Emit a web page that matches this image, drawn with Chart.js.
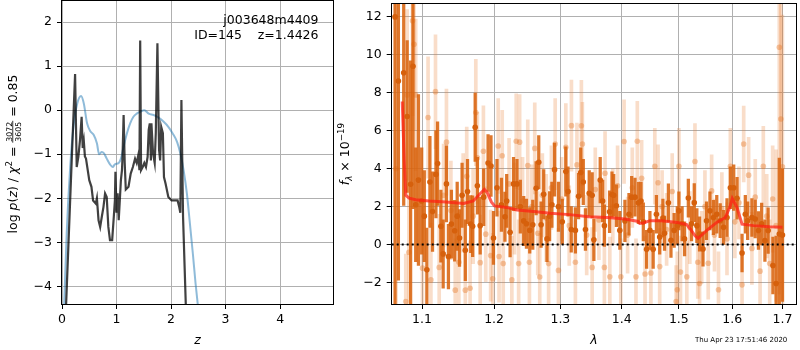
<!DOCTYPE html>
<html><head><meta charset="utf-8">
<script src="https://cdn.jsdelivr.net/npm/chart.js@4"></script>
<style>
html,body{margin:0;padding:0;background:#fff;}
#wrap{position:relative;width:800px;height:350px;overflow:hidden;}
#c1{position:absolute;left:0;top:0;width:335px;height:350px;}
#c2{position:absolute;left:335px;top:0;width:465px;height:350px;}
</style></head><body>
<div id="wrap"><canvas id="c1" width="335" height="350"></canvas><canvas id="c2" width="465" height="350"></canvas></div>
<script>
// ---------------- data: left panel (redshift PDF) ----------------
const zTicks = [0, 1, 2, 3, 4];
const pzTicks = [-4, -3, -2, -1, 0, 1, 2];
const zLine = [0.06,0.24,0.27,0.30,0.33,0.36,0.38,0.40,0.42,0.44,0.50,0.54,0.57,0.62,0.64,0.67,0.70,0.73,0.76,0.79,0.82,0.85,0.88,0.92,0.95,0.97,0.98,1.00,1.02,1.04,1.06,1.08,1.10,1.11,1.13,1.15,1.17,1.22,1.26,1.30,1.34,1.37,1.40,1.42,1.434,1.45,1.48,1.51,1.54,1.57,1.59,1.61,1.63,1.64,1.67,1.70,1.72,1.75,1.78,1.80,1.82,1.85,1.87,1.90,1.95,2.01,2.07,2.12,2.15,2.17,2.19,2.22,2.29];
const logPz = [-4.9,0.82,-1.29,-1.06,-0.68,-0.15,-0.86,-0.70,-1.05,-1.10,-1.59,-1.74,-2.05,-2.12,-2.00,-2.50,-2.65,-2.42,-2.20,-1.89,-1.97,-2.65,-2.95,-2.95,-2.42,-2.05,-1.40,-2.33,-1.89,-2.50,-2.05,-1.59,-1.36,-1.06,-0.11,-1.20,-1.80,-1.74,-1.44,-1.29,-1.10,-1.20,-1.02,-1.36,1.58,-1.36,-1.29,-1.20,-1.29,-1.06,-0.45,-0.30,-1.14,-0.30,-0.98,-1.20,-0.52,1.52,-0.90,-1.14,-0.38,-0.52,-1.52,-1.67,-1.97,-2.05,-2.05,-2.05,-2.20,-2.33,0.23,-2.42,-5.2];
const zSmooth = [0.01,0.086,0.15,0.21,0.28,0.35,0.40,0.46,0.52,0.58,0.64,0.68,0.73,0.77,0.82,0.88,0.93,0.97,1.04,1.08,1.13,1.19,1.25,1.31,1.37,1.43,1.51,1.59,1.68,1.77,1.86,1.95,2.03,2.11,2.17,2.23,2.29,2.34,2.40,2.45,2.49,2.55];
const logPzSmooth = [-5.5,-2.8,-1.29,-0.38,0.15,0.32,0.15,-0.30,-0.48,-0.56,-0.75,-1.00,-0.95,-0.98,-1.10,-1.23,-1.29,-1.23,-1.20,-1.10,-0.83,-0.53,-0.30,-0.15,-0.08,-0.04,0.00,-0.08,-0.11,-0.17,-0.26,-0.38,-0.53,-0.72,-0.98,-1.36,-1.89,-2.50,-3.26,-3.94,-4.41,-5.0];
const fieldName = 'j003648m4409';
const idLine = 'ID=145    z=1.4426';

// ---------------- data: right panel (spectrum) ----------------
const lamTicks = [1.1, 1.2, 1.3, 1.4, 1.5, 1.6, 1.7];
const fluxTicks = [-2, 0, 2, 4, 6, 8, 10, 12];
const lamDark = [1.0647,1.0690,1.0759,1.0804,1.0849,1.0880,1.0916,1.0952,1.0995,1.1030,1.1064,1.1105,1.1140,1.1186,1.1208,1.1253,1.1284,1.1329,1.1356,1.1397,1.1442,1.1477,1.1509,1.1545,1.1590,1.1621,1.1666,1.1693,1.1729,1.1760,1.1800,1.1850,1.1913,1.1955,1.1991,1.2042,1.2107,1.2158,1.2184,1.2234,1.2285,1.2336,1.2386,1.2437,1.2478,1.2528,1.2574,1.2625,1.2665,1.2701,1.2741,1.2792,1.2832,1.2868,1.2909,1.2970,1.3030,1.3086,1.3121,1.3172,1.3238,1.3289,1.3324,1.3365,1.3400,1.3461,1.3509,1.3537,1.3641,1.3681,1.3710,1.3796,1.3836,1.3865,1.3910,1.3968,1.4054,1.4123,1.4169,1.4226,1.4284,1.4330,1.4370,1.4427,1.4485,1.4542,1.4599,1.4657,1.4714,1.4743,1.4812,1.4858,1.4915,1.4972,1.5001,1.5059,1.5104,1.5173,1.5231,1.5282,1.5330,1.5380,1.5444,1.5510,1.5574,1.5639,1.5703,1.5768,1.5833,1.5898,1.5963,1.6028,1.6092,1.6190,1.6254,1.6300,1.6384,1.6449,1.6514,1.6578,1.6643,1.6708,1.6805,1.6870,1.6935,1.7000];
const fluxDark = [12.0,8.62,9.06,6.75,3.18,9.40,2.10,3.40,2.30,1.50,-1.33,3.30,1.74,3.70,4.27,0.97,-0.49,3.20,-0.63,1.08,0.73,1.50,0.35,2.60,-0.30,2.80,1.08,0.97,6.18,3.10,1.00,2.50,4.30,4.14,0.35,3.00,2.10,1.47,2.30,0.65,3.20,3.20,2.00,1.25,1.10,0.75,1.05,2.97,4.34,1.05,2.65,0.30,1.50,2.10,3.95,2.00,1.20,3.85,2.80,0.80,0.75,2.55,3.80,3.30,0.80,2.70,2.60,0.25,3.40,2.30,1.00,1.73,2.64,2.60,2.05,0.75,1.25,1.60,2.50,2.50,2.20,2.30,1.20,-0.25,0.75,-0.25,1.60,0.40,1.40,0.60,2.20,0.23,0.75,1.00,1.78,1.10,0.30,2.45,1.10,2.21,1.00,0.56,-0.23,1.26,1.78,1.43,1.60,1.26,0.91,1.43,3.00,3.00,2.44,-0.44,1.60,1.26,1.43,1.35,0.74,1.09,0.21,0.74,-1.10,-2.05,0.56,0.50];
const errDark = [16.0,10.5,7.0,4.0,6.5,7.5,3.0,4.5,2.8,2.4,2.2,2.4,2.1,2.3,2.2,1.9,1.8,2.0,1.7,1.8,1.6,1.8,1.5,1.7,1.6,1.7,1.5,1.6,1.8,1.5,1.5,1.5,1.5,1.6,1.4,1.5,1.4,1.3,1.4,1.3,1.4,1.3,1.4,1.3,1.3,1.2,1.3,1.4,1.4,1.2,1.3,1.2,1.3,1.2,1.4,1.3,1.2,1.3,1.3,1.2,1.2,1.2,1.3,1.2,1.1,1.2,1.2,1.1,1.2,1.1,1.1,1.1,1.2,1.1,1.1,1.0,1.1,1.1,1.1,1.0,1.1,1.0,1.0,1.0,1.0,1.0,1.0,0.9,1.0,0.9,1.0,0.9,0.9,1.0,1.0,0.9,0.9,1.0,0.9,1.0,0.9,0.9,0.9,1.0,1.0,0.9,1.0,0.9,0.9,1.0,1.1,1.2,1.1,1.0,1.0,1.0,1.0,1.0,1.0,1.1,1.1,1.2,1.5,2.5,4.0,3.5];
const lamLight = [1.0660,1.0786,1.0804,1.0826,1.0874,1.0894,1.0916,1.1006,1.1080,1.1118,1.1180,1.1230,1.1290,1.1329,1.1390,1.1450,1.1500,1.1560,1.1590,1.1610,1.1657,1.1700,1.1738,1.1760,1.1800,1.1846,1.1880,1.1950,1.1980,1.2060,1.2072,1.2118,1.2133,1.2219,1.2260,1.2300,1.2325,1.2361,1.2376,1.2420,1.2498,1.2523,1.2560,1.2604,1.2650,1.2680,1.2720,1.2780,1.2817,1.2860,1.2919,1.2970,1.3020,1.3086,1.3140,1.3175,1.3238,1.3263,1.3334,1.3350,1.3420,1.3509,1.3560,1.3620,1.3710,1.3721,1.3800,1.3850,1.3930,1.3985,1.4040,1.4100,1.4180,1.4243,1.4266,1.4341,1.4400,1.4502,1.4571,1.4628,1.4657,1.4700,1.4780,1.4880,1.4950,1.4972,1.5001,1.5030,1.5145,1.5200,1.5295,1.5347,1.5380,1.5420,1.5480,1.5542,1.5606,1.5660,1.5736,1.5800,1.5898,1.5963,1.6050,1.6130,1.6190,1.6222,1.6319,1.6384,1.6450,1.6546,1.6611,1.6680,1.6740,1.6800,1.6870,1.6935,1.6967,1.6999];
const fluxLight = [4.0,-3.0,7.89,-0.40,11.8,10.56,7.89,-1.24,6.70,-1.86,8.06,-1.20,2.60,5.40,1.80,-2.40,-0.93,2.20,-2.40,3.60,-2.30,1.50,6.96,4.57,-0.95,4.92,0.55,-0.58,-1.80,5.20,-0.63,4.68,-1.00,3.20,-1.86,1.90,5.45,-1.00,5.40,2.30,4.17,-0.93,2.00,5.07,0.60,-1.71,2.60,1.40,-1.00,3.00,5.30,-1.36,2.40,5.13,1.00,6.27,-0.93,4.20,6.26,5.30,0.50,-1.20,2.90,1.30,-1.20,3.76,-1.70,2.00,3.10,-1.70,5.43,0.50,3.00,-1.70,5.45,3.50,-1.55,-1.50,4.13,3.26,-1.16,2.00,0.80,2.80,-3.00,-2.38,4.13,-1.45,-1.70,0.90,4.38,-0.93,-2.05,-0.14,2.00,-0.98,2.83,0.50,-2.38,1.90,0.30,4.13,1.20,2.20,-2.12,5.30,3.66,-0.20,2.50,-1.40,4.13,1.50,-1.00,2.40,1.00,10.40,6.62,4.10];
const errLight = [11.0,2.5,4.5,3.5,5.0,4.5,4.0,3.2,3.2,3.0,
  3.0,2.8,2.7,2.8,2.6,2.7,2.6,2.6,2.5,2.6,
  2.5,2.5,2.8,2.4,2.5,2.4,2.5,2.4,2.4,2.5,
  2.4,2.4,2.3,2.4,2.3,2.4,2.5,2.3,2.5,2.3,
  2.4,2.3,2.2,2.4,2.2,2.3,2.2,2.3,2.2,2.2,
  2.4,2.2,2.2,2.3,2.1,2.4,2.2,2.2,2.4,2.2,
  2.1,2.1,2.2,2.1,2.1,2.2,2.1,2.0,2.1,2.0,
  2.2,2.0,2.1,2.0,2.1,2.0,2.0,2.0,2.0,2.0,
  2.0,1.9,1.9,2.0,1.9,2.0,2.0,1.9,1.9,1.9,
  2.0,1.9,1.9,1.9,1.9,1.9,1.9,1.9,2.0,1.9,
  1.9,2.0,1.9,1.9,2.0,2.0,2.0,1.9,2.0,2.0,
  2.1,2.2,2.3,2.8,4.0,13.0,9.0,8.0];
const lamModel = [1.0740,1.0765,1.0785,1.0830,1.0916,1.1096,1.1320,1.1567,1.1702,1.1792,1.1860,1.1904,1.1960,1.2006,1.2184,1.2336,1.2589,1.2843,1.3147,1.3451,1.3767,1.4054,1.4284,1.4307,1.4370,1.4485,1.4685,1.4972,1.5144,1.5231,1.5300,1.5354,1.5510,1.5703,1.5866,1.5950,1.6000,1.6092,1.6190,1.6417,1.6740,1.7000];
const fluxModel = [7.54,4.50,2.60,2.45,2.36,2.30,2.25,2.17,2.30,2.65,2.91,2.73,2.25,2.04,1.96,1.82,1.74,1.65,1.58,1.47,1.43,1.35,1.22,1.12,1.14,1.26,1.26,1.17,1.05,0.74,0.45,0.33,0.74,1.17,1.43,1.95,2.43,1.95,1.08,1.00,0.94,0.91];
const zeroLam = [1.0604, 1.728];
const zeroFlux = [0, 0];
const timeStamp = 'Thu Apr 23 17:51:46 2020';

// ---------------- helpers ----------------
const FONT = '"DejaVu Sans", "Liberation Sans", sans-serif';
const minus = s => String(s).replace('-', '\u2212');
const pts = (xs, ys) => xs.map((x, i) => ({x: x, y: ys[i]}));
const bars = (xs, ys, es) => xs.map((x, i) => ({x: x, y: [ys[i] - es[i], ys[i] + es[i]]}));

const framePlugin = {
  id: 'frame',
  afterDatasetsDraw(chart) {
    const {ctx, chartArea: a} = chart;
    ctx.save();
    ctx.strokeStyle = '#000';
    ctx.lineWidth = 1;
    ctx.strokeRect(Math.round(a.left) - 0.5, Math.round(a.top) - 0.5, Math.round(a.right - a.left) + 1, Math.round(a.bottom - a.top) + 1);
    ctx.restore();
  }
};

function drawRuns(ctx, runs, cx, cy, rot) {
  ctx.save();
  ctx.translate(cx, cy);
  ctx.rotate(rot);
  ctx.textBaseline = 'alphabetic';
  ctx.textAlign = 'left';
  let total = 0;
  runs.forEach(r => {
    ctx.font = r.font;
    r.w = r.frac ? Math.max(ctx.measureText(r.num).width, ctx.measureText(r.den).width) + 2 : ctx.measureText(r.t).width;
    total += r.w;
  });
  let x = -total / 2;
  runs.forEach(r => {
    ctx.font = r.font;
    if (r.frac) {
      const nw = ctx.measureText(r.num).width, dw = ctx.measureText(r.den).width;
      ctx.fillText(r.num, x + (r.w - nw) / 2, -5.5);
      ctx.fillText(r.den, x + (r.w - dw) / 2, 3.8);
      ctx.fillRect(x, -4.6, r.w, 0.8);
    } else {
      ctx.fillText(r.t, x, r.dy || 0);
    }
    x += r.w;
  });
  ctx.restore();
}

const F = s => `${s}px ${FONT}`;
const FI = s => `italic ${s}px ${FONT}`;

const leftText = {
  id: 'leftText',
  afterDraw(chart) {
    const {ctx, chartArea: a} = chart;
    ctx.save();
    ctx.fillStyle = '#000';
    ctx.font = F(12.5);
    ctx.textAlign = 'right';
    ctx.textBaseline = 'alphabetic';
    ctx.fillText(fieldName, 318.5, 24);
    ctx.fillText(idLine, 318.5, 39);
    ctx.textAlign = 'center';
    ctx.font = FI(12.5);
    ctx.fillText('z', (a.left + a.right) / 2, 344);
    ctx.restore();
    ctx.fillStyle = '#000';
    drawRuns(ctx, [
      {t: 'log ', font: F(12.5)},
      {t: 'p', font: FI(12.5)},
      {t: '(', font: F(12.5)},
      {t: 'z', font: FI(12.5)},
      {t: ')', font: F(12.5)},
      {t: ' / ', font: F(12.5)},
      {t: '\u03c7', font: FI(12.5)},
      {t: '2', font: F(8.75), dy: -5},
      {t: ' = ', font: F(12.5)},
      {frac: true, num: '3072', den: '3605', font: F(7.8)},
      {t: ' = 0.85', font: F(12.5)}
    ], 17, 154, -Math.PI / 2);
  }
};

const rightText = {
  id: 'rightText',
  afterDraw(chart) {
    const {ctx, chartArea: a} = chart;
    ctx.save();
    ctx.fillStyle = '#000';
    ctx.textAlign = 'center';
    ctx.textBaseline = 'alphabetic';
    ctx.font = FI(12.5);
    ctx.fillText('\u03bb', (a.left + a.right) / 2, 344);
    ctx.font = F(7);
    ctx.textAlign = 'right';
    ctx.fillText(timeStamp, 452.3, 342);
    ctx.restore();
    ctx.fillStyle = '#000';
    drawRuns(ctx, [
      {t: 'f', font: FI(12.5)},
      {t: '\u03bb', font: FI(8.75), dy: 2.5},
      {t: ' \u00d7 10', font: F(12.5)},
      {t: '\u221219', font: F(8.75), dy: -5.5}
    ], 14.3, 154, -Math.PI / 2);
  }
};

const gridOpts = {color: '#b0b0b0', lineWidth: 1, tickColor: '#000', tickLength: 5, drawTicks: true, offset: false};
const tickFont = {family: FONT, size: 12.5};
const fitX = s => { s.height = 46; s.paddingLeft = 0; s.paddingRight = 0; };
const fitY = w => s => { s.width = w; s.paddingTop = 0; s.paddingBottom = 0; };

// ---------------- left chart ----------------
new Chart(document.getElementById('c1'), {
  type: 'scatter',
  data: {datasets: [
    {data: pts(zLine, logPz), showLine: true, borderColor: 'rgba(0,0,0,0.75)', borderWidth: 2.2, pointRadius: 0, tension: 0, order: 1, clip: 0},
    {data: pts(zSmooth, logPzSmooth), showLine: true, borderColor: 'rgba(31,119,180,0.5)', borderWidth: 2, pointRadius: 0, cubicInterpolationMode: 'monotone', order: 2, clip: 0}
  ]},
  options: {
    responsive: false, animation: false, events: [],
    layout: {padding: {left: 0, right: 2, top: 1, bottom: 0}},
    plugins: {legend: {display: false}, tooltip: {enabled: false}},
    scales: {
      x: {type: 'linear', min: 0, max: 4.97, bounds: 'data',
        afterBuildTicks: s => { s.ticks = zTicks.map(v => ({value: v})); },
        afterFit: fitX,
        grid: gridOpts, border: {display: false},
        ticks: {font: tickFont, color: '#000', padding: 3, maxRotation: 0, autoSkip: false, callback: v => minus(v)}},
      y: {type: 'linear', min: -4.40, max: 2.477, bounds: 'data',
        afterBuildTicks: s => { s.ticks = pzTicks.map(v => ({value: v})); },
        afterFit: fitY(62),
        grid: gridOpts, border: {display: false},
        ticks: {font: tickFont, color: '#000', padding: 5, autoSkip: false, callback: v => minus(v)}}
    }
  },
  plugins: [framePlugin, leftText]
});

// ---------------- right chart ----------------
new Chart(document.getElementById('c2'), {
  type: 'scatter',
  data: {datasets: [
    {type: 'line', data: pts(zeroLam, zeroFlux), borderColor: '#000', borderWidth: 2, borderDash: [2, 3], pointRadius: 0, order: 1, clip: 0},
    {type: 'scatter', data: pts(lamModel, fluxModel), showLine: true, borderColor: 'rgba(255,30,20,0.72)', borderWidth: 3, pointRadius: 0, tension: 0, order: 2, clip: 0},
    {type: 'scatter', data: pts(lamDark, fluxDark), pointRadius: 2.8, pointBackgroundColor: 'rgb(214,96,12)', pointBorderWidth: 0, order: 3, clip: 0},
    {type: 'bar', data: bars(lamDark, fluxDark, errDark), backgroundColor: 'rgba(217,100,15,0.88)', borderWidth: 0, barThickness: 2.6, order: 4, clip: 0, grouped: false},
    {type: 'scatter', data: pts(lamLight, fluxLight), pointRadius: 2.8, pointBackgroundColor: 'rgba(230,120,40,0.4)', pointBorderWidth: 0, order: 5, clip: 0},
    {type: 'bar', data: bars(lamLight, fluxLight, errLight), backgroundColor: 'rgba(230,120,40,0.25)', borderWidth: 0, barThickness: 3, order: 6, clip: 0, grouped: false}
  ]},
  options: {
    responsive: false, animation: false, events: [],
    layout: {padding: {left: 0, right: 0.7, top: 1, bottom: 0}},
    plugins: {legend: {display: false}, tooltip: {enabled: false}},
    scales: {
      x: {type: 'logarithmic', min: 1.0604, max: 1.728, bounds: 'data', offset: false,
        afterBuildTicks: s => { s.ticks = lamTicks.map(v => ({value: v})); },
        afterFit: fitX,
        grid: gridOpts, border: {display: false},
        ticks: {font: tickFont, color: '#000', padding: 3, maxRotation: 0, autoSkip: false, callback: v => Number(v).toFixed(1)}},
      y: {type: 'linear', min: -3.13, max: 12.68, bounds: 'data', beginAtZero: false,
        afterBuildTicks: s => { s.ticks = fluxTicks.map(v => ({value: v})); },
        afterFit: fitY(56.7),
        grid: gridOpts, border: {display: false},
        ticks: {font: tickFont, color: '#000', padding: 5, autoSkip: false, callback: v => minus(v)}}
    }
  },
  plugins: [framePlugin, rightText]
});
</script>
</body></html>
